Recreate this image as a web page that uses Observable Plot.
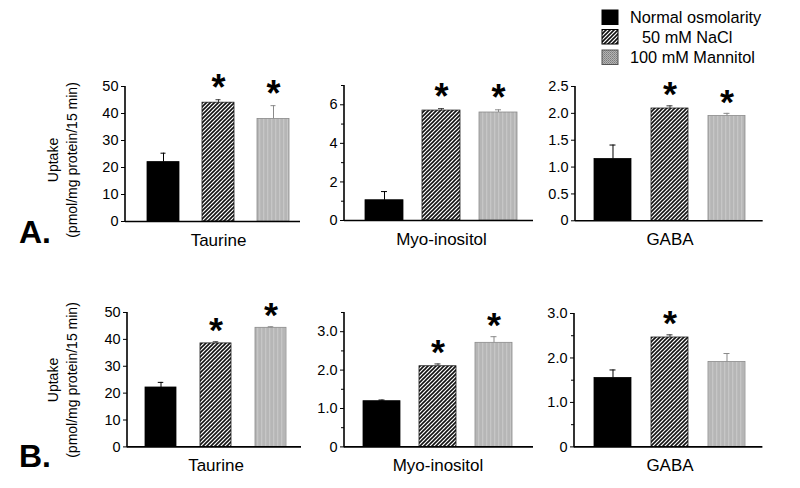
<!DOCTYPE html>
<html><head><meta charset="utf-8">
<script src="https://cdn.jsdelivr.net/npm/d3@7"></script>
<script src="https://cdn.jsdelivr.net/npm/@observablehq/plot@0.6"></script>
<style>
body{margin:0;background:#fff;}
#wrap{position:relative;width:800px;height:488px;overflow:hidden;font-family:"Liberation Sans",Arial,sans-serif;}
#wrap svg{position:absolute;}
</style></head><body>
<svg width="0" height="0" style="position:absolute;left:0;top:0">
<defs>
<pattern id="hatch" patternUnits="userSpaceOnUse" width="4" height="4">
<rect width="4" height="4" fill="#fff"/>
<path d="M-1,5 L5,-1 M-3,3 L3,-3 M1,7 L7,1" stroke="#111" stroke-width="1.6"/>
</pattern>
<pattern id="greyStripe" patternUnits="userSpaceOnUse" width="4" height="10">
<rect width="4" height="10" fill="#b6b6b6"/>
<rect x="0" width="1.3" height="10" fill="#c6c6c6"/>
</pattern>
<pattern id="dots" patternUnits="userSpaceOnUse" width="2" height="2">
<rect width="2" height="2" fill="#b4b4b4"/>
<rect width="1" height="1" fill="#7c7c7c"/>
<rect x="1" y="1" width="1" height="1" fill="#8e8e8e"/>
</pattern>
</defs></svg>
<div id="wrap"></div>
<script>
// ---------- data ----------
const conditions = ["Normal osmolarity", "50 mM NaCl", "100 mM Mannitol"];
const solutes = ["Taurine", "Myo-inositol", "GABA"];
const experiments = ["A.", "B."];
const yTitle = ["Uptake", "(pmol/mg protein/15 min)"];

// Experiment A: mean and SEM (pmol/mg protein/15 min)
const taurineA = [22.0, 44.0, 38.0];
const taurineAErr = [3.3, 1.1, 4.9];
const myoA = [1.05, 5.70, 5.60];
const myoAErr = [0.45, 0.10, 0.14];
const gabaA = [1.15, 2.09, 1.95];
const gabaAErr = [0.26, 0.05, 0.05];
const taurineASig = [false, true, true];
const myoASig = [false, true, true];
const gabaASig = [false, true, true];

// Experiment B
const taurineB = [22.1, 38.5, 44.3];
const taurineBErr = [1.9, 0.6, 0.4];
const myoB = [1.19, 2.10, 2.71];
const myoBErr = [0.03, 0.06, 0.16];
const gabaB = [1.55, 2.46, 1.91];
const gabaBErr = [0.18, 0.06, 0.19];
const taurineBSig = [false, true, true];
const myoBSig = [false, true, true];
const gabaBSig = [false, true, false];

// axes
const taurineDomain = [0, 50];
const taurineTicks = [0, 10, 20, 30, 40, 50];
const taurineTickLabels = ["0", "10", "20", "30", "40", "50"];
const myoADomain = [0, 7];
const myoATicks = [0, 2, 4, 6];
const myoATickLabels = ["0", "2", "4", "6"];
const myoAMinor = [1, 3, 5, 7];
const gabaADomain = [0, 2.5];
const gabaATicks = [0, 0.5, 1, 1.5, 2, 2.5];
const gabaATickLabels = ["0", "0.5", "1.0", "1.5", "2.0", "2.5"];
const myoBDomain = [0, 3.5];
const myoBTicks = [0, 1, 2, 3];
const myoBTickLabels = ["0", "1.0", "2.0", "3.0"];
const myoBMinor = [0.5, 1.5, 2.5, 3.5];
const gabaBDomain = [0, 3];
const gabaBTicks = [0, 1, 2, 3];
const gabaBTickLabels = ["0", "1.0", "2.0", "3.0"];
const gabaBMinor = [0.5, 1.5, 2.5];

// ---------- panels ----------
const panels = [
  {solute: solutes[0], mean: taurineA, err: taurineAErr, sig: taurineASig, domain: taurineDomain, ticks: taurineTicks, labels: taurineTickLabels, minor: []},
  {solute: solutes[1], mean: myoA, err: myoAErr, sig: myoASig, domain: myoADomain, ticks: myoATicks, labels: myoATickLabels, minor: myoAMinor},
  {solute: solutes[2], mean: gabaA, err: gabaAErr, sig: gabaASig, domain: gabaADomain, ticks: gabaATicks, labels: gabaATickLabels, minor: []},
  {solute: solutes[0], mean: taurineB, err: taurineBErr, sig: taurineBSig, domain: taurineDomain, ticks: taurineTicks, labels: taurineTickLabels, minor: []},
  {solute: solutes[1], mean: myoB, err: myoBErr, sig: myoBSig, domain: myoBDomain, ticks: myoBTicks, labels: myoBTickLabels, minor: myoBMinor},
  {solute: solutes[2], mean: gabaB, err: gabaBErr, sig: gabaBSig, domain: gabaBDomain, ticks: gabaBTicks, labels: gabaBTickLabels, minor: gabaBMinor}
];

// page-pixel layout of each panel frame
const frames = [
  {axisX: 125, endX: 300, top: 85.7, base: 220.7, bar0: 146, bar1: 290.7, bw: 33},
  {axisX: 344, endX: 533, top: 85, base: 220, bar0: 364.3, bar1: 517.3, bw: 38},
  {axisX: 575, endX: 762.7, top: 85.7, base: 220, bar0: 593.3, bar1: 745.7, bw: 37},
  {axisX: 126.7, endX: 300.7, top: 312.3, base: 446.7, bar0: 144, bar1: 286.7, bw: 31.5},
  {axisX: 344.3, endX: 533.3, top: 312.3, base: 446.7, bar0: 363.3, bar1: 512.7, bw: 37},
  {axisX: 574.3, endX: 762.7, top: 313.3, base: 446.7, bar0: 593.3, bar1: 745.7, bw: 37}
];

const FONT = '"Liberation Sans", Arial, sans-serif';
const fills = ["#000", "url(#hatch)", "url(#greyStripe)"];
const strokes = ["#000", "#1a1a1a", "#8a8a8a"];
const errColors = ["#000", "#3a3a3a", "#8a8a8a"];
const wrap = document.getElementById("wrap");

function makePanel(p, f) {
  const mL = 50, mR = 8, mT = 40, mB = 45;
  const left = f.axisX - mL, top = f.top - mT;
  const width = f.endX + mR - left, height = f.base + mB - top;
  const data = conditions.map((c, i) => ({c, v: p.mean[i], hi: p.mean[i] + p.err[i], sig: p.sig[i]}));
  const step = (f.bar1 - f.bar0 - f.bw) / 2;
  const pad = 1 - f.bw / step;
  const capInset = (f.bw - 6) / 2;
  const marks = [];
  data.forEach((d, i) => {
    marks.push(Plot.barY([d], {x: "c", y: "v", fill: fills[i], stroke: strokes[i], strokeWidth: 0.8}));
    marks.push(Plot.ruleX([d], {x: "c", y1: "v", y2: "hi", stroke: errColors[i], strokeWidth: 1}));
    marks.push(Plot.tickY([d], {x: "c", y: "hi", stroke: errColors[i], strokeWidth: 1, insetLeft: capInset, insetRight: capInset}));
  });
  marks.push(Plot.ruleY([0], {stroke: "#000", strokeWidth: 1.6}));
  marks.push((index, scales, values, dims) => {
    const l = document.createElementNS("http://www.w3.org/2000/svg", "line");
    l.setAttribute("x1", dims.marginLeft); l.setAttribute("x2", dims.marginLeft);
    l.setAttribute("y1", dims.marginTop); l.setAttribute("y2", dims.height - dims.marginBottom + 0.8);
    l.setAttribute("stroke", "#000"); l.setAttribute("stroke-width", 1.6);
    return l;
  });
  marks.push(Plot.axisY({ticks: p.ticks, tickFormat: (t) => p.labels[p.ticks.indexOf(t)], tickSize: 4, tickPadding: 3, fontSize: 14.5, label: null, stroke: "#000", color: "#000"}));
  if (p.minor.length) marks.push(Plot.axisY({ticks: p.minor, tickFormat: () => "", tickSize: 3, label: null, stroke: "#000"}));
  marks.push(Plot.text(data.filter(d => d.sig), {x: "c", y: "hi", text: () => "*", fontSize: 36, fontWeight: "bold", dy: -11, fill: "#000"}));
  marks.push(Plot.text([p.solute], {x: () => conditions[1], frameAnchor: "bottom", dy: 24, fontSize: 17, fill: "#000"}));
  const chart = Plot.plot({
    width, height, marginLeft: mL, marginRight: mR, marginTop: mT, marginBottom: mB,
    style: {fontFamily: FONT, background: "transparent", color: "#000", overflow: "visible"},
    x: {domain: conditions, range: [f.bar0 - left, f.bar1 - left], paddingInner: pad, paddingOuter: 0, axis: null},
    y: {domain: p.domain, axis: null},
    marks
  });
  chart.style.left = left + "px";
  chart.style.top = top + "px";
  wrap.appendChild(chart);
}
panels.forEach((p, i) => makePanel(p, frames[i]));

// ---------- annotations: panel letters, y titles, legend ----------
const ann = d3.select(wrap).append("svg").attr("width", 800).attr("height", 488)
  .style("left", "0px").style("top", "0px").style("font-family", FONT);
const letterY = [243, 467];
const titleY = [160, 380];
experiments.forEach((e, i) => {
  ann.append("text").attr("x", 19).attr("y", letterY[i]).attr("font-size", 32).attr("font-weight", "bold").text(e);
  yTitle.forEach((t, j) => {
    ann.append("text").attr("transform", `translate(${53 + j * 18.5},${titleY[i]}) rotate(-90)`)
      .attr("text-anchor", "middle").attr("dominant-baseline", "central").attr("font-size", 14).text(t);
  });
});
const legFill = ["#000", "url(#hatch)", "url(#dots)"];
const legStroke = ["#000", "#000", "#555"];
const legBoxY = [10, 29.5, 50];
const legTextX = [630, 642, 630];
conditions.forEach((c, i) => {
  ann.append("rect").attr("x", 602).attr("y", legBoxY[i]).attr("width", 16).attr("height", 14.5)
    .attr("fill", legFill[i]).attr("stroke", legStroke[i]).attr("stroke-width", 1);
  ann.append("text").attr("x", legTextX[i]).attr("y", legBoxY[i] + 7.3).attr("dominant-baseline", "central")
    .attr("font-size", 16.3).text(c);
});
</script>
</body></html>
